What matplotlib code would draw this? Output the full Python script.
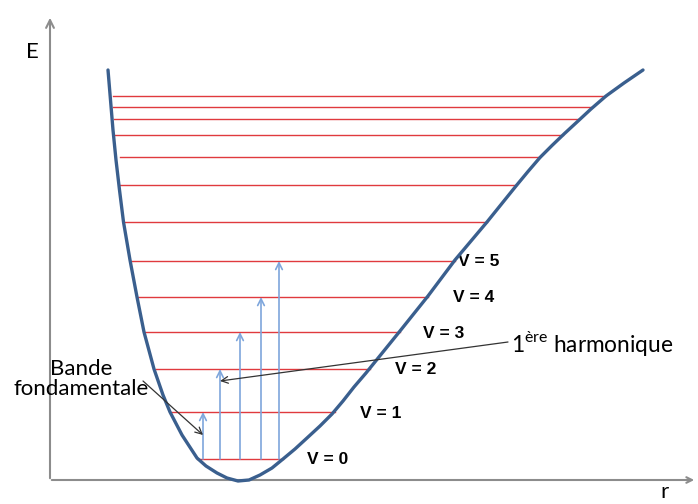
import matplotlib.pyplot as plt

plt.rcParams['mathtext.fontset'] = 'custom'
plt.rcParams['mathtext.rm'] = 'Lato'

# potential curve (pixel coords, y down)
curve_x = [108, 110.5, 113, 116, 119.5, 123.5, 130, 137, 144, 154, 163, 170, 182, 197,
           206, 217, 227, 238,
           249, 260, 272, 283, 295, 307, 320, 332, 343, 354, 366, 383, 400, 428, 455,
           487, 516, 528, 540, 552, 564, 577, 591, 606, 624, 643]
curve_y = [70, 100, 130, 160, 190, 222, 260, 297, 332, 369, 395, 412, 435, 458,
           466, 473, 478, 481,
           480, 475, 468, 459, 449, 438, 426, 414, 401, 387, 373, 352, 331, 296, 260,
           222, 186, 171.5, 157.5, 145.5, 134, 122, 109, 96, 83, 70]

# vibrational levels
level_y = [459, 412, 369, 332, 297, 261, 222, 185, 157, 135, 119, 107, 96]
level_x0 = [197, 170, 156, 145, 137, 130, 125, 120, 120, 113, 114, 113, 113]
level_x1 = [283, 335, 370, 400, 428, 455, 487, 516, 540, 563, 578, 592, 606]

# transitions from v=0
trans_x = [203, 220, 240, 261, 279]

v_labels = ['V = 0', 'V = 1', 'V = 2', 'V = 3', 'V = 4', 'V = 5']
v_lab_x = [307, 360, 395, 423, 453, 458]

fig = plt.figure(figsize=(6.98, 5.04), dpi=100)
ax = fig.add_axes([0, 0, 1, 1])
ax.set_xlim(0, 698)
ax.set_ylim(504, 0)
ax.axis('off')

axcol = '#8c8c8c'
ax.annotate('', xy=(50, 15), xytext=(50, 481),
            arrowprops=dict(arrowstyle='->', color=axcol, lw=1.5, mutation_scale=14))
ax.annotate('', xy=(697, 480), xytext=(49, 480),
            arrowprops=dict(arrowstyle='->', color=axcol, lw=1.5, mutation_scale=10))
ax.text(32, 52, 'E', fontsize=16, family='Lato', ha='center', va='center')
ax.text(665, 492, 'r', fontsize=16, family='Lato', ha='center', va='center')

for y, x0, x1 in zip(level_y, level_x0, level_x1):
    ax.plot([x0, x1], [y, y], color='#e03a3e', lw=1.0, zorder=2)

for x, y in zip(trans_x, level_y[1:6]):
    ax.annotate('', xy=(x, y), xytext=(x, level_y[0]),
                arrowprops=dict(arrowstyle='->', color='#7ea6dc', lw=1.2,
                                mutation_scale=12, shrinkA=0, shrinkB=0), zorder=3)

ax.plot(curve_x, curve_y, color='#3a5f8e', lw=2.4, zorder=4,
        solid_capstyle='round', solid_joinstyle='round')

for lab, x, y in zip(v_labels, v_lab_x, level_y[:6]):
    ax.text(x, y + 1, lab, fontsize=12.5, fontweight='bold', family='Liberation Sans',
            ha='left', va='center')

ax.text(511, 344, r'1$^{\mathrm{ère}}$ harmonique', fontsize=16.3, family='Lato',
        ha='left', va='center')
ax.annotate('', xy=(220, 381), xytext=(508, 342),
            arrowprops=dict(arrowstyle='->', color='#333333', lw=0.9,
                            mutation_scale=12, shrinkA=0, shrinkB=0), zorder=5)

ax.text(81, 379, 'Bande\nfondamentale', fontsize=16, family='Lato',
        ha='center', va='center', linespacing=1.0)
ax.annotate('', xy=(203, 435), xytext=(143, 381),
            arrowprops=dict(arrowstyle='->', color='#333333', lw=0.9,
                            mutation_scale=12, shrinkA=0, shrinkB=0), zorder=5)

fig.savefig('out.png', dpi=100)
